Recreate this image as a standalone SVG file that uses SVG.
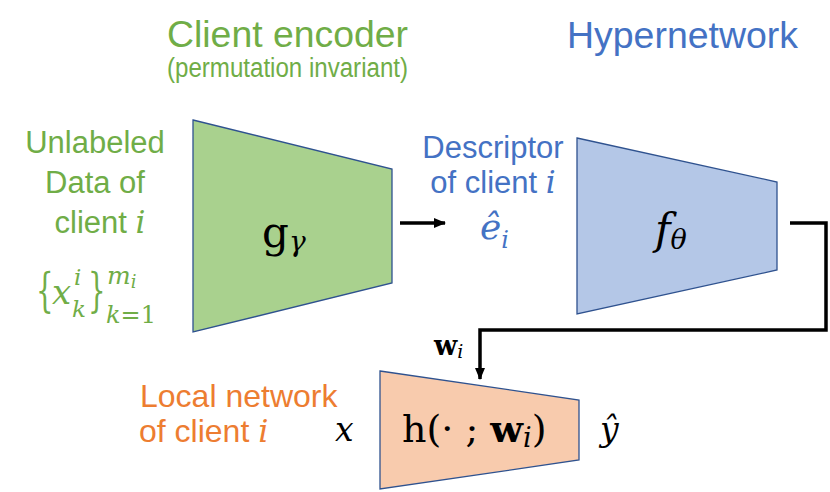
<svg xmlns="http://www.w3.org/2000/svg" width="830" height="492" viewBox="0 0 830 492">
<style>
.sans{font-family:"Liberation Sans",Arial,sans-serif}
.math{font-family:"DejaVu Serif","Liberation Serif",serif}
.it{font-style:italic}
.green{fill:#70AD47}
.blue{fill:#4472C4}
.orange{fill:#ED7D31}
.trap{stroke:#2F528F;stroke-width:1.3}
.conn{fill:none;stroke:#000;stroke-width:3.5}
</style>
<defs>
<marker id="ah" viewBox="0 0 12 10" refX="11" refY="5" markerWidth="12" markerHeight="10" markerUnits="userSpaceOnUse" orient="auto">
<path d="M0,0 L12,5 L0,10 z" fill="#000"/>
</marker>
</defs>
<rect width="830" height="492" fill="#fff"/>

<g id="title-encoder">
<text class="sans green" x="167" y="47" font-size="36" textLength="241" lengthAdjust="spacingAndGlyphs">Client encoder</text>
<text class="sans green" x="167" y="77" font-size="27" textLength="241" lengthAdjust="spacingAndGlyphs">(permutation invariant)</text>
</g>
<g id="title-hypernetwork">
<text class="sans blue" x="567" y="48" font-size="36" textLength="231" lengthAdjust="spacingAndGlyphs">Hypernetwork</text>
</g>

<g id="data-label">
<text class="sans green" x="95" y="153" font-size="31" text-anchor="middle">Unlabeled</text>
<text class="sans green" x="95" y="193" font-size="31" text-anchor="middle">Data of</text>
<text class="sans green" x="100" y="233" font-size="31" text-anchor="middle">client <tspan class="math it">i</tspan></text>
<text class="math green" x="36" y="306" font-size="46" transform="translate(36 0) scale(0.6 1) translate(-36 0)">{</text>
<text class="math it green" x="52" y="304" font-size="34">x</text>
<text class="math it green" x="74" y="285" font-size="23">i</text>
<text class="math it green" x="72" y="317" font-size="23">k</text>
<text class="math green" x="88" y="306" font-size="46" transform="translate(88 0) scale(0.6 1) translate(-88 0)">}</text>
<text class="math it green" x="107" y="284" font-size="25">m<tspan font-size="18" dy="4">i</tspan></text>
<text class="math green" x="106" y="323" font-size="24"><tspan class="it">k</tspan>=1</text>
</g>

<g id="encoder">
<polygon class="trap" points="193,120 392,169 392,283 193,332" fill="#A9D18E"/>
<text class="math" x="262" y="247" font-size="42">g<tspan class="it" font-size="28" dy="4">γ</tspan></text>
</g>

<g id="descriptor-label">
<text class="sans blue" x="493" y="158" font-size="31" text-anchor="middle">Descriptor</text>
<text class="sans blue" x="493" y="193" font-size="31" text-anchor="middle">of client <tspan class="math it">i</tspan></text>
<text class="math it blue" x="480" y="239" font-size="36">ê<tspan font-size="24" dy="9">i</tspan></text>
</g>

<g id="hypernetwork">
<polygon class="trap" points="577,138 777,182 777,270 577,314" fill="#B4C7E7"/>
<text class="math it" x="655" y="244" font-size="42">f<tspan font-size="27" dy="5">θ</tspan></text>
</g>

<g id="local-label">
<text class="sans orange" x="140" y="407" font-size="32">Local network</text>
<text class="sans orange" x="139" y="442" font-size="32">of client <tspan class="math it">i</tspan></text>
</g>

<g id="local-network">
<polygon class="trap" points="380,371 579,400 579,460 380,489" fill="#F8CBAD"/>
<text class="math" x="402" y="442" font-size="38">h(· ; <tspan font-weight="bold">w</tspan><tspan class="it" font-size="27" dy="5">i</tspan><tspan dy="-5">)</tspan></text>
</g>

<g id="io-labels">
<text class="math it" x="335" y="441" font-size="33">x</text>
<text class="math it" x="600" y="441" font-size="33">ŷ</text>
<text class="math" x="434" y="355" font-size="27"><tspan font-weight="bold">w</tspan><tspan class="it" font-size="19" dy="3">i</tspan></text>
</g>

<g id="connectors">
<line class="conn" x1="400" y1="223" x2="445" y2="223" marker-end="url(#ah)"/>
<polyline class="conn" points="790,223 826,223 826,330 480,330 480,379" marker-end="url(#ah)"/>
</g>
</svg>
